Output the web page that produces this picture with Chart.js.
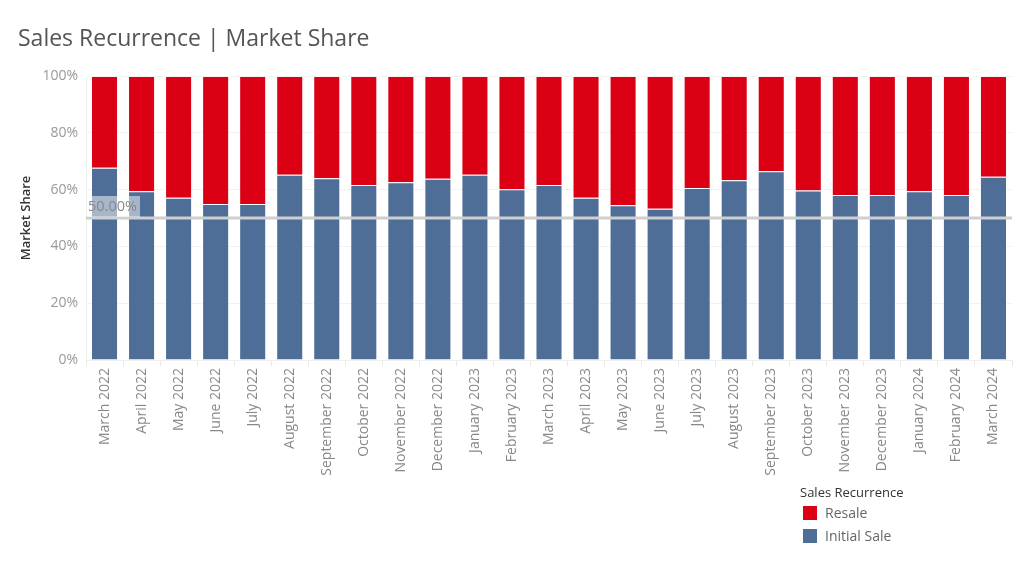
<!DOCTYPE html>
<html>
<head>
<meta charset="utf-8">
<script src="https://cdn.jsdelivr.net/npm/chart.js@4/dist/chart.umd.min.js"></script>
<style>
  html, body { margin: 0; padding: 0; background: #fff; }
  #wrap { position: relative; width: 1024px; height: 568px; font-family: "Open Sans", sans-serif; }
  #title { position: absolute; left: 18px; top: 21px; font-size: 23px; color: #555; }
  #legend { position: absolute; left: 800px; top: 483px; }
  #legend .lt { font-size: 13px; color: #333; margin-bottom: 0; }
  #legend .it { display: flex; align-items: center; height: 23px; font-size: 14px; color: #666; }
  #legend .sw { width: 14px; height: 14px; margin: 0 8px 0 3px; }
</style>
</head>
<body>
<div id="wrap">
  <canvas id="salesChart" width="1024" height="568"></canvas>
  <div id="title">Sales Recurrence | Market Share</div>
  <div id="legend">
    <div class="lt">Sales Recurrence</div>
    <div class="it"><span class="sw" style="background:#dc0014"></span>Resale</div>
    <div class="it"><span class="sw" style="background:#4e6d97"></span>Initial Sale</div>
  </div>
</div>
<script>
// months on the x axis
const months = [
  "March 2022", "April 2022", "May 2022", "June 2022", "July 2022", "August 2022",
  "September 2022", "October 2022", "November 2022", "December 2022",
  "January 2023", "February 2023", "March 2023", "April 2023", "May 2023",
  "June 2023", "July 2023", "August 2023", "September 2023", "October 2023",
  "November 2023", "December 2023", "January 2024", "February 2024", "March 2024"
];

// share in %
const initialSale = [67.7, 59.4, 57.1, 54.9, 54.9, 65.2, 64.0, 61.6, 62.6, 63.8,
  65.2, 60.1, 61.6, 57.1, 54.5, 53.3, 60.6, 63.3, 66.5, 59.7, 58.1, 58.1, 59.4, 58.1, 64.5];
const resale = [32.3, 40.6, 42.9, 45.1, 45.1, 34.8, 36.0, 38.4, 37.4, 36.2,
  34.8, 39.9, 38.4, 42.9, 45.5, 46.7, 39.4, 36.7, 33.5, 40.3, 41.9, 41.9, 40.6, 41.9, 35.5];

const yTicks = [0, 20, 40, 60, 80, 100];
const referenceValue = 50;

const FONT = "'Open Sans', sans-serif";

// draws the 50% reference line with its label
const referenceLine = {
  id: "referenceLine",
  afterDatasetsDraw(chart) {
    const { ctx, chartArea, scales } = chart;
    const y = scales.y.getPixelForValue(referenceValue);
    ctx.save();
    ctx.strokeStyle = "#cfcfcf";
    ctx.lineWidth = 3;
    ctx.beginPath();
    ctx.moveTo(chartArea.left, y);
    ctx.lineTo(chartArea.right, y);
    ctx.stroke();

    ctx.font = "14.5px " + FONT;
    const text = referenceValue.toFixed(2) + "%";
    const w = ctx.measureText(text).width + 4;
    ctx.fillStyle = "rgba(255,255,255,0.5)";
    ctx.fillRect(chartArea.left + 1, y - 22, w, 21);
    ctx.fillStyle = "#888";
    ctx.textBaseline = "middle";
    ctx.fillText(text, chartArea.left + 2, y - 11);
    ctx.restore();
  }
};

const ctx = document.getElementById("salesChart").getContext("2d");

new Chart(ctx, {
  type: "bar",
  data: {
    labels: months,
    datasets: [
      {
        label: "Initial Sale",
        data: initialSale,
        backgroundColor: "#4e6d97",
        borderColor: "rgba(255,255,255,0.35)",
        borderWidth: 1
      },
      {
        label: "Resale",
        data: resale,
        backgroundColor: "#dc0014",
        borderColor: "rgba(255,255,255,0.35)",
        borderWidth: 1
      }
    ]
  },
  options: {
    responsive: false,
    animation: false,
    layout: { padding: { top: 76, right: 12, bottom: 0, left: 0 } },
    datasets: { bar: { barPercentage: 0.73, categoryPercentage: 1 } },
    plugins: {
      legend: { display: false },
      tooltip: { enabled: false }
    },
    scales: {
      x: {
        stacked: true,
        afterFit: scale => { scale.height = 208; },
        grid: { display: true, drawOnChartArea: false, drawTicks: true, tickLength: 6, color: "#e8e8e8", offset: true },
        border: { display: true, color: "#eeeeee" },
        ticks: {
          maxRotation: 90,
          minRotation: 90,
          autoSkip: false,
          padding: 2,
          color: "#888",
          font: { family: FONT, size: 14 }
        }
      },
      y: {
        stacked: true,
        min: 0,
        max: 100,
        afterFit: scale => { scale.width = 86; },
        afterBuildTicks: scale => { scale.ticks = yTicks.map(v => ({ value: v })); },
        grid: { color: "#f2f2f2", drawTicks: false },
        border: { display: true, color: "#eeeeee" },
        ticks: {
          padding: 8,
          color: "#999",
          font: { family: FONT, size: 14 },
          callback: v => v + "%"
        },
        title: {
          display: true,
          text: "Market Share",
          color: "#333",
          padding: { top: 18, bottom: 0 },
          font: { family: FONT, size: 13, weight: "600" }
        }
      }
    }
  },
  plugins: [referenceLine]
});
</script>
</body>
</html>
